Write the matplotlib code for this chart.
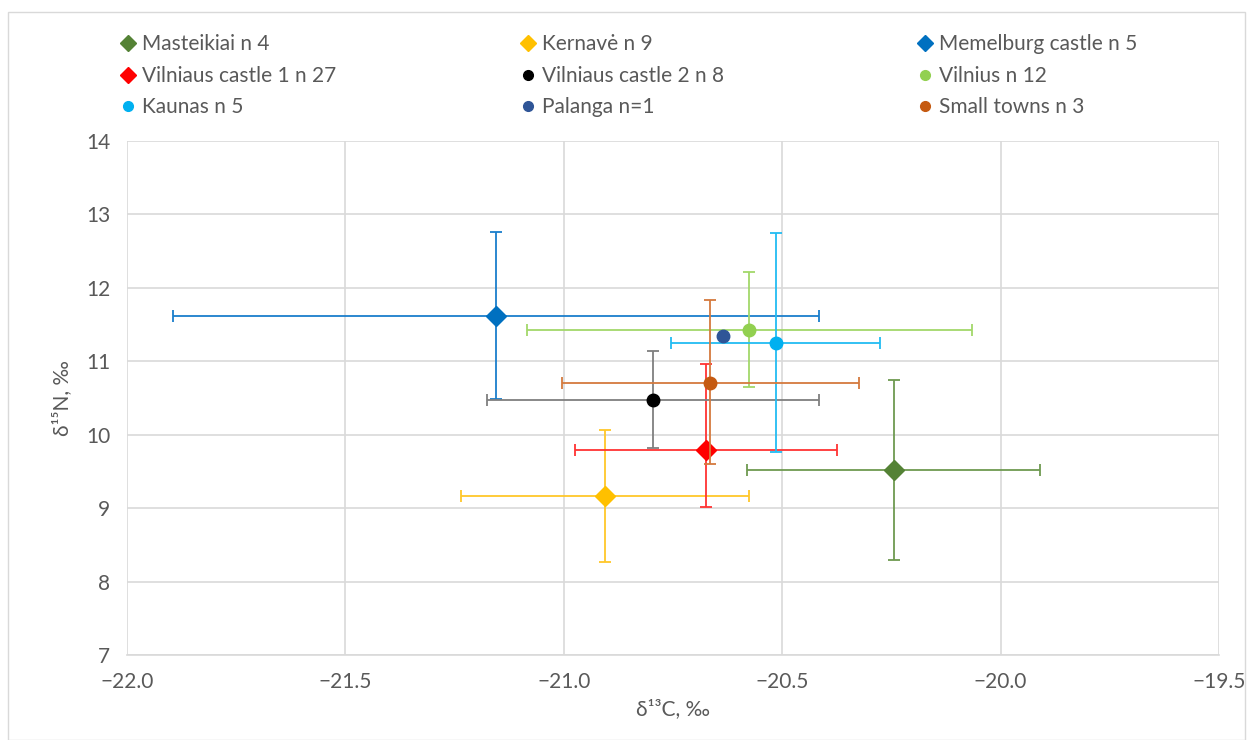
import matplotlib.pyplot as plt
from matplotlib.lines import Line2D
from matplotlib.patches import Rectangle

plt.rcParams['font.family'] = ['Lato', 'DejaVu Sans']

# series, in legend order (row by row)
labels = ['Masteikiai n 4', 'Kernavė n 9', 'Memelburg castle n 5',
          'Vilniaus castle 1 n 27', 'Vilniaus castle 2 n 8', 'Vilnius n 12',
          'Kaunas n 5', 'Palanga n=1', 'Small towns n 3']
d13c = [-20.245, -20.905, -21.155, -20.675, -20.795, -20.575, -20.515, -20.635, -20.665]
d15n = [9.52, 9.17, 11.61, 9.79, 10.47, 11.43, 11.25, 11.35, 10.71]
xerr = [0.335, 0.33, 0.74, 0.30, 0.38, 0.51, 0.24, 0.0, 0.34]
yerr_lo = [1.23, 0.90, 1.12, 0.78, 0.65, 0.78, 1.49, 0.0, 1.11]
yerr_hi = [1.23, 0.90, 1.15, 1.17, 0.67, 0.78, 1.50, 0.0, 1.13]
markers = ['D', 'D', 'D', 'D', 'o', 'o', 'o', 'o', 'o']
colors = ['#548235', '#FFC000', '#0070C0', '#FF0000', '#000000',
          '#92D050', '#00B0F0', '#2F5597', '#C55A11']
bar_colors = ['#6E9A50', '#FFC72A', '#1A7ECC', '#FF3333', '#7F7F7F',
              '#A2D86A', '#22BCF2', '#2F5597', '#D47A3E']

W, H = 1251, 740
fig = plt.figure(figsize=(W / 100, H / 100), dpi=100)
fig.patches.append(Rectangle((8 / W, 0), 1237 / W, 1 - 12 / H, transform=fig.transFigure,
                             fill=False, edgecolor='#D9D9D9', linewidth=1))
ax = fig.add_axes([127 / W, 1 - 655 / H, 1092 / W, 514 / H])

for i in range(len(labels)):
    if xerr[i] > 0 or yerr_hi[i] > 0:
        ax.errorbar(d13c[i], d15n[i], xerr=xerr[i],
                    yerr=[[yerr_lo[i]], [yerr_hi[i]]], fmt='none',
                    ecolor=bar_colors[i], elinewidth=1.3, capsize=4.5,
                    capthick=1.3, zorder=3 + 2 * i)
    ms = 10 if markers[i] == 'D' else 9
    ax.plot(d13c[i], d15n[i], marker=markers[i], color=colors[i],
            markersize=ms, linestyle='none', zorder=4 + 2 * i)

ax.set_xlim(-22, -19.5)
ax.set_ylim(7, 14)
ax.set_xticks([-22, -21.5, -21, -20.5, -20, -19.5])
ax.set_xticklabels(['−22.0', '−21.5', '−21.0', '−20.5', '−20.0', '−19.5'])
ax.set_yticks(range(7, 15))
ax.grid(True, color='#D9D9D9', linewidth=1.2)
ax.set_axisbelow(True)
for s in ['top', 'right', 'left']:
    ax.spines[s].set_visible(False)
ax.spines['bottom'].set_color('#D9D9D9')
ax.spines['bottom'].set_linewidth(1.2)
ax.tick_params(length=0, labelsize=15, colors='#595959', pad=12)
ax.set_xlabel('δ¹³C, ‰', fontsize=15, color='#595959', labelpad=5)
ax.set_ylabel('δ¹⁵N, ‰', fontsize=15, color='#595959', labelpad=10)

# legend: three columns placed separately
col_x = [107, 507, 904]
for c in range(3):
    handles = []
    for r in range(3):
        k = r * 3 + c
        handles.append(Line2D([], [], marker=markers[k], color=colors[k], linestyle='none',
                              markersize=8 if markers[k] == 'D' else 7, label=labels[k]))
    fig.legend(handles=handles, loc='upper left',
               bbox_to_anchor=(col_x[c] / W, 1 - 26 / H), frameon=False,
               fontsize=15, labelcolor='#595959', handletextpad=0.1,
               handlelength=1.2, labelspacing=0.55, borderaxespad=0)

fig.savefig('out.png', dpi=100)
